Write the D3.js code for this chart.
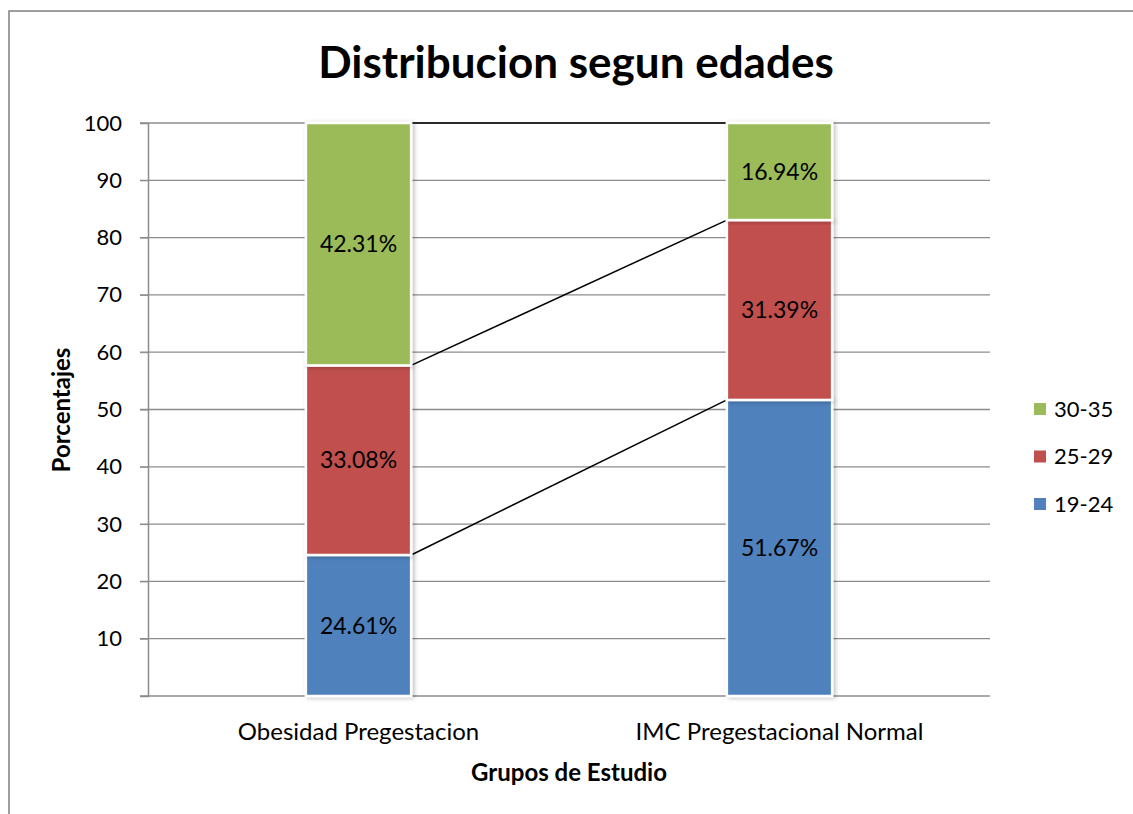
<!DOCTYPE html>
<html>
<head>
<meta charset="utf-8">
<script src="https://cdn.jsdelivr.net/npm/d3@7"></script>
<style>
  body { margin: 0; background: #fff; }
  text { font-family: Lato, "Open Sans", sans-serif; }
</style>
</head>
<body>
<div id="chart"></div>
<script>
// chart data
const groups = ["Obesidad Pregestacion", "IMC Pregestacional Normal"];
const seriesNames = ["19-24", "25-29", "30-35"];
const s1924 = [24.61, 51.67];
const s2529 = [33.08, 31.39];
const s3035 = [42.31, 16.94];
const yTicks = [10, 20, 30, 40, 50, 60, 70, 80, 90, 100];
const colors = ["#4F81BD", "#C0504D", "#9BBB59"];

function drawChart() {
    var w = 1133, h = 814;
    var left = 148, right = 990, top = 123, bottom = 696;

    var svg = d3.select("#chart").append("svg")
                .attr("width", w)
                .attr("height", h);

    var defs = svg.append("defs");
    var f = defs.append("filter").attr("id", "shadow")
                .attr("x", "-20%").attr("y", "-5%").attr("width", "140%").attr("height", "110%");
    f.append("feDropShadow").attr("dx", 2).attr("dy", 1).attr("stdDeviation", 2)
        .attr("flood-color", "#000").attr("flood-opacity", 0.25);

    //outer frame
    svg.append("rect")
        .attr("x", 9).attr("y", 11)
        .attr("width", w + 20).attr("height", h + 20)
        .attr("fill", "none")
        .attr("stroke", "#7f7f7f")
        .attr("stroke-width", 1.5);

    var rows = groups.map((g, i) => ({ group: g, "19-24": s1924[i], "25-29": s2529[i], "30-35": s3035[i] }));
    var stacked = d3.stack().keys(seriesNames)(rows);

    var xScale = d3.scaleBand().domain(groups).range([left, right]);
    var yScale = d3.scaleLinear().domain([0, 100]).range([bottom, top]);
    var barW = xScale.bandwidth() / 4;

    //gridlines
    svg.append("g").selectAll("line")
        .data(yTicks)
        .enter().append("line")
        .attr("x1", left - 8).attr("x2", right)
        .attr("y1", d => yScale(d)).attr("y2", d => yScale(d))
        .attr("stroke", "#8c8c8c")
        .attr("stroke-width", 1.3);

    //y axis
    var yAxis = d3.axisLeft(yScale).tickValues(yTicks).tickSize(8).tickPadding(18);
    var yg = svg.append("g").attr("transform", "translate(" + left + ",0)").call(yAxis);
    yg.select(".domain").attr("stroke", "#8c8c8c").attr("stroke-width", 1.5);
    yg.selectAll(".tick line").attr("stroke", "#8c8c8c");
    yg.selectAll("text").style("font-size", "22px").attr("fill", "#000");

    //x axis line
    svg.append("line")
        .attr("x1", left - 8).attr("x2", right)
        .attr("y1", bottom).attr("y2", bottom)
        .attr("stroke", "#8c8c8c").attr("stroke-width", 1.5);

    //series lines
    var lineData = stacked.map(s => s.map(d => d[1]));
    svg.append("g").selectAll("line")
        .data(lineData)
        .enter().append("line")
        .attr("x1", xScale(groups[0]) + xScale.bandwidth() / 2 + barW / 2)
        .attr("x2", xScale(groups[1]) + xScale.bandwidth() / 2 - barW / 2)
        .attr("y1", d => yScale(d[0]))
        .attr("y2", d => yScale(d[1]))
        .attr("stroke", "#000")
        .attr("stroke-width", 1.5);

    //bars
    var layer = svg.append("g").selectAll("g")
        .data(stacked)
        .enter().append("g")
        .attr("fill", (d, i) => colors[i]);

    layer.selectAll("rect")
        .data(d => d)
        .enter().append("rect")
        .attr("x", d => xScale(d.data.group) + xScale.bandwidth() / 2 - barW / 2)
        .attr("y", d => yScale(d[1]))
        .attr("width", barW)
        .attr("height", d => yScale(d[0]) - yScale(d[1]))
        .attr("stroke", "#fff")
        .attr("stroke-width", 2.5)
        .attr("filter", "url(#shadow)");

    //data labels
    layer.selectAll("text")
        .data(d => d)
        .enter().append("text")
        .attr("x", d => xScale(d.data.group) + xScale.bandwidth() / 2)
        .attr("y", d => (yScale(d[0]) + yScale(d[1])) / 2)
        .attr("dy", "0.35em")
        .attr("text-anchor", "middle")
        .attr("fill", "#000")
        .style("font-size", "23px")
        .text(d => (d[1] - d[0]).toFixed(2) + "%");

    //category labels
    svg.append("g").selectAll("text")
        .data(groups)
        .enter().append("text")
        .attr("x", d => xScale(d) + xScale.bandwidth() / 2)
        .attr("y", 740)
        .attr("text-anchor", "middle")
        .style("font-size", "24px")
        .text(d => d);

    //title
    svg.append("text")
        .attr("x", 576).attr("y", 78)
        .attr("text-anchor", "middle")
        .style("font-size", "44px")
        .style("font-weight", "bold")
        .text("Distribucion segun edades");

    //axis titles
    svg.append("text")
        .attr("x", 569).attr("y", 781)
        .attr("text-anchor", "middle")
        .style("font-size", "24px")
        .style("font-weight", "bold")
        .text("Grupos de Estudio");

    svg.append("text")
        .attr("transform", "translate(70,410) rotate(-90)")
        .attr("text-anchor", "middle")
        .style("font-size", "24px")
        .style("font-weight", "bold")
        .text("Porcentajes");

    //legend
    var legendOrder = [2, 1, 0];
    var lg = svg.append("g").selectAll("g")
        .data(legendOrder)
        .enter().append("g")
        .attr("transform", (d, i) => "translate(1034," + (409 + i * 47.5) + ")");
    lg.append("rect")
        .attr("x", 0).attr("y", -6)
        .attr("width", 12).attr("height", 12)
        .attr("fill", d => colors[d]);
    lg.append("text")
        .attr("x", 20).attr("dy", "0.35em")
        .style("font-size", "22px")
        .text(d => seriesNames[d]);
}

drawChart();
</script>
</body>
</html>
